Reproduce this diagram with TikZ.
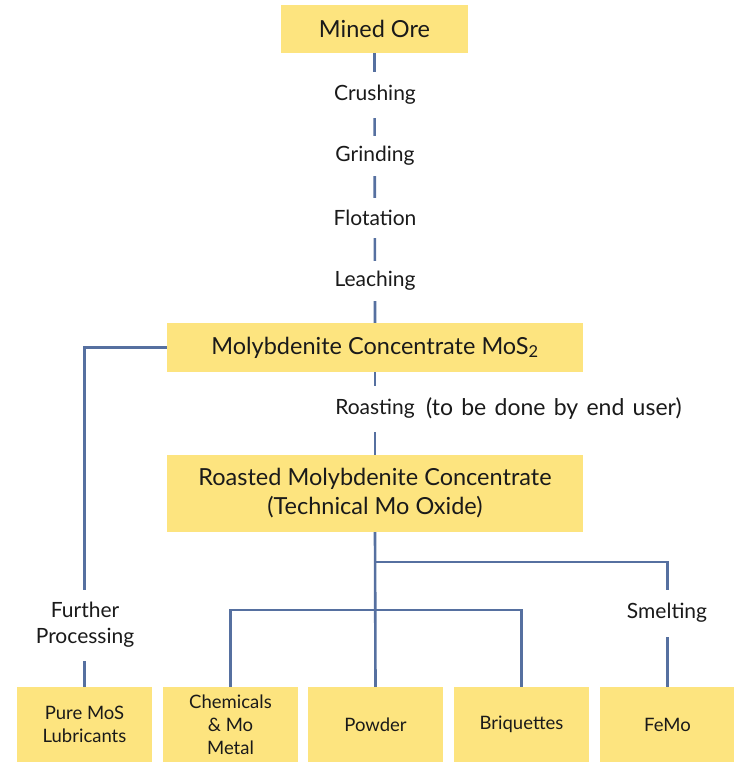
\documentclass[tikz,border=0pt]{standalone}
\usepackage{fontspec}
\setmainfont{Lato}
\definecolor{boxfill}{HTML}{FDE47F}
\definecolor{linec}{HTML}{5670A0}
\definecolor{txt}{HTML}{1A1A1A}
\begin{document}
\begin{tikzpicture}[x=1pt,y=-1pt,
  box/.style={fill=boxfill,draw=none,inner sep=0pt,text=txt,align=center},
  bigtext/.style={font=\fontsize{23.5}{29}\selectfont},
  smalltext/.style={font=\fontsize{18.5}{23}\selectfont},
  lbl/.style={fill=white,inner xsep=2pt,inner ysep=0pt,text=txt,align=center,font=\fontsize{21}{26}\selectfont},
  conn/.style={draw=linec,line width=2.6pt}]
\useasboundingbox (0,0) rectangle (733,762);
% boxes
\node[box,bigtext,minimum width=187pt,minimum height=48pt] (ore) at (374.5,29) {Mined Ore};
\node[box,bigtext,minimum width=416pt,minimum height=49pt] (moly) at (375,347.5) {Molybdenite Concentrate MoS\textsubscript{2}};
\node[box,bigtext,minimum width=416pt,minimum height=77pt] (roast) at (375,493.5) {Roasted Molybdenite Concentrate\\(Technical Mo Oxide)};
\node[box,smalltext,minimum width=135pt,minimum height=75pt] (pure) at (84.5,724.5) {Pure MoS\\Lubricants};
\node[box,smalltext,minimum width=135pt,minimum height=75pt] (chem) at (230.5,724.5) {Chemicals\\\& Mo\\Metal};
\node[box,smalltext,minimum width=135pt,minimum height=75pt] (powder) at (375.5,724.5) {Powder};
\node[box,smalltext,minimum width=135pt,minimum height=75pt] (briq) at (521.5,724.5) {Briquettes};
\node[box,smalltext,minimum width=135pt,minimum height=75pt] (femo) at (667.5,724.5) {FeMo};
\coordinate (j1) at (375,562);
\coordinate (j2) at (375,610);
% connectors
\draw[conn] (ore.south) -- (moly.north);
\draw[conn] (moly.south) -- (roast.north);
\draw[conn] (moly.west) -| (pure.north);
\draw[conn] (roast.south) -- (powder.north);
\draw[conn] (j1) -| (femo.north);
\draw[conn] (chem.north) |- (j2) -| (briq.north);
% labels
\node[lbl,minimum height=46pt] (crush) at (375,95) {Crushing};
\node[lbl,minimum height=40pt] (grind) at (375,156) {Grinding};
\node[lbl,minimum height=40pt] (flot) at (375,218) {Flotation};
\node[lbl,minimum height=40pt] (leach) at (375,281) {Leaching};
\node[lbl,minimum height=46pt] (roasting) at (375,409) {Roasting};
\node[lbl,anchor=west,font=\fontsize{23}{26}\selectfont] (enduser) at ([xshift=7pt]roasting.east) {\spaceskip=0.36em\relax(to be done by end user)};
\node[lbl,minimum height=71pt] (further) at (85,625) {Further\\Processing};
\node[lbl,minimum height=47pt] (smelt) at (667,613) {Smelting};
\end{tikzpicture}
\end{document}
